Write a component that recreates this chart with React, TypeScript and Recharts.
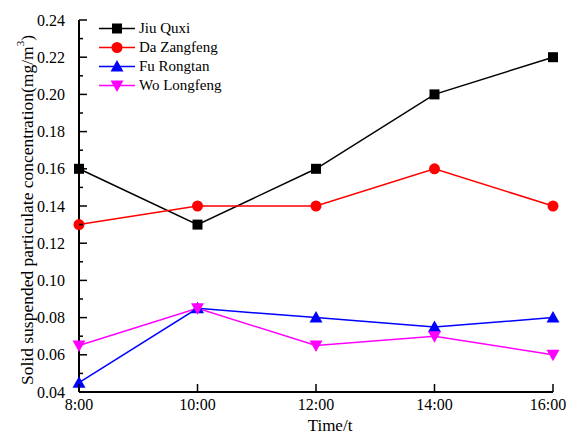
import React from "react";
import { Legend, Line, LineChart, XAxis, YAxis } from "recharts";

const times = ["8:00", "10:00", "12:00", "14:00", "16:00"];
const jiuQuxi = [0.16, 0.13, 0.16, 0.2, 0.22];
const daZangfeng = [0.13, 0.14, 0.14, 0.16, 0.14];
const fuRongtan = [0.045, 0.085, 0.08, 0.075, 0.08];
const woLongfeng = [0.065, 0.085, 0.065, 0.07, 0.06];
const yTicks = [0.04, 0.05, 0.06, 0.07, 0.08, 0.09, 0.1, 0.11, 0.12, 0.13, 0.14, 0.15, 0.16, 0.17, 0.18, 0.19, 0.2, 0.21, 0.22, 0.23, 0.24];

const series = [
  { key: "jiu", name: "Jiu Quxi", color: "#000000", shape: "square", values: jiuQuxi },
  { key: "da", name: "Da Zangfeng", color: "#ff0000", shape: "circle", values: daZangfeng },
  { key: "fu", name: "Fu Rongtan", color: "#0000ff", shape: "up", values: fuRongtan },
  { key: "wo", name: "Wo Longfeng", color: "#ff00ff", shape: "down", values: woLongfeng },
];

const data = times.map((time, i) => {
  const row: Record<string, string | number> = { time };
  series.forEach((s) => (row[s.key] = s.values[i]));
  return row;
});

const font = '"Liberation Serif", "Times New Roman", serif';

function Marker({ shape, cx, cy, color }: { shape: string; cx: number; cy: number; color: string }) {
  if (shape === "square") return <rect x={cx - 5} y={cy - 5} width={10} height={10} fill={color} />;
  if (shape === "circle") return <circle cx={cx} cy={cy} r={5.5} fill={color} />;
  if (shape === "up") return <polygon points={`${cx},${cy - 6.5} ${cx + 6.5},${cy + 5} ${cx - 6.5},${cy + 5}`} fill={color} />;
  return <polygon points={`${cx},${cy + 6.5} ${cx + 6.5},${cy - 5} ${cx - 6.5},${cy - 5}`} fill={color} />;
}

const YTick = (props: any) => {
  const { x, y, payload } = props;
  const axisX = x + 8;
  const major = Math.round(payload.value * 100) % 2 === 0;
  return (
    <g>
      <line x1={axisX} x2={axisX + (major ? 8 : 4)} y1={y} y2={y} stroke="#000" strokeWidth={1.5} />
      {major && (
        <text x={x - 6} y={y} dy="0.35em" textAnchor="end" fontFamily={font} fontSize={16} fill="#000">
          {payload.value.toFixed(2)}
        </text>
      )}
    </g>
  );
};

const XTick = (props: any) => {
  const { x, y, payload, index, visibleTicksCount } = props;
  // last label is nudged left so it stays inside the picture
  const shift = index === visibleTicksCount - 1 ? -5 : 0;
  return (
    <g>
      <line x1={x} x2={x} y1={y} y2={y - 8} stroke="#000" strokeWidth={1.5} />
      <text x={x + shift} y={y + 18} textAnchor="middle" fontFamily={font} fontSize={16} fill="#000">
        {payload.value}
      </text>
    </g>
  );
};

const renderLegend = () => (
  <div style={{ fontFamily: font, fontSize: 15, color: "#000" }}>
    {series.map((s) => (
      <div key={s.key} style={{ display: "flex", alignItems: "center", height: 19 }}>
        <svg width={36} height={19}>
          <line x1={0} x2={36} y1={9.5} y2={9.5} stroke={s.color} strokeWidth={1.5} />
          <Marker shape={s.shape} cx={18} cy={9.5} color={s.color} />
        </svg>
        <span style={{ marginLeft: 4 }}>{s.name}</span>
      </div>
    ))}
  </div>
);

export default function App() {
  return (
    <div style={{ position: "absolute", left: 0, top: 0, background: "#fff" }}>
      <LineChart width={567} height={434} data={data} margin={{ top: 20, right: 14, left: 0, bottom: 0 }}>
        <XAxis
          dataKey="time"
          height={42}
          tickLine={false}
          tickSize={0}
          tickMargin={0}
          tick={<XTick />}
          interval={0}
          axisLine={{ stroke: "#000", strokeWidth: 2 }}
          label={{
            content: ({ viewBox }: any) => (
              <text x={viewBox.x + viewBox.width / 2 + 14} y={viewBox.y + 39} textAnchor="middle" fontFamily={font} fontSize={17} fill="#000">
                Time/t
              </text>
            ),
          }}
        />
        <YAxis
          width={79}
          domain={[0.04, 0.24]}
          ticks={yTicks}
          interval={0}
          allowDataOverflow
          tickLine={false}
          tickSize={0}
          tickMargin={8}
          tick={<YTick />}
          axisLine={{ stroke: "#000", strokeWidth: 2 }}
          label={{
            content: ({ viewBox }: any) => {
              const cx = 27;
              const cy = viewBox.y + viewBox.height / 2 + 4;
              return (
                <text x={cx} y={cy} transform={`rotate(-90 ${cx} ${cy})`} textAnchor="middle" dominantBaseline="central" fontFamily={font} fontSize={17.5} fill="#000">
                  Solid suspended particulate concentration(mg/m
                  <tspan dy={-7} fontSize={11}>3</tspan>
                  <tspan dy={7}>)</tspan>
                </text>
              );
            },
          }}
        />
        <Legend
          layout="vertical"
          verticalAlign="middle"
          align="center"
          wrapperStyle={{ top: 19, left: 99, width: "auto" }}
          content={renderLegend}
        />
        {series.map((s) => (
          <Line
            key={s.key}
            dataKey={s.key}
            name={s.name}
            stroke={s.color}
            strokeWidth={1.5}
            isAnimationActive={false}
            dot={(p: any) => <Marker key={`${s.key}-${p.index}`} shape={s.shape} cx={p.cx} cy={p.cy} color={s.color} />}
            activeDot={false}
          />
        ))}
      </LineChart>
    </div>
  );
}
